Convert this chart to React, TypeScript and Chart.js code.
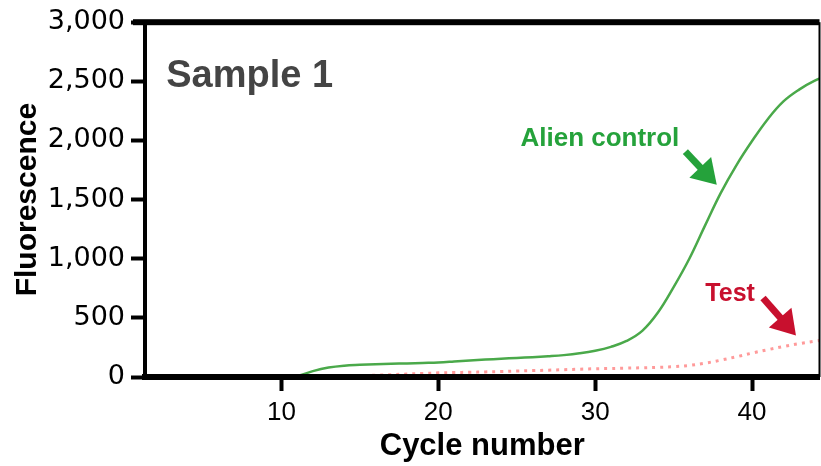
import React, { useEffect, useRef } from "react";
import { Chart, registerables } from "chart.js";

Chart.register(...registerables);

const cycles = [1, 2, 3, 4, 5, 6, 7, 8, 9, 10, 11, 12, 13, 14, 15, 16, 17, 18, 19, 20, 21, 22, 23, 24, 25, 26, 27, 28, 29, 30, 31, 32, 33, 34, 35, 36, 37, 38, 39, 40, 41, 42, 43, 44, 45];
const alienControl = [0, 0, 0, 0, 0, 0, 0, 0, 0, 0, 8, 50, 80, 96, 103, 108, 112, 115, 119, 123, 131, 140, 148, 154, 161, 167, 175, 185, 200, 222, 255, 305, 390, 545, 760, 1000, 1280, 1555, 1790, 1995, 2180, 2330, 2430, 2505, 2560];
const testSample = [0, 0, 0, 0, 0, 0, 0, 0, 0, 0, 0, 0, 0, 5, 10, 15, 20, 25, 30, 35, 38, 40, 43, 46, 50, 54, 58, 62, 66, 70, 72, 75, 78, 82, 87, 98, 117, 142, 171, 202, 231, 258, 282, 303, 322];

const xMin = 1.3;
const xMax = 44.3;
const yMin = 0;
const yMax = 3000;
const xTickStep = 10;
const yTickStep = 500;

const titleText = "Sample 1";
const yAxisTitle = "Fluorescence";
const xAxisTitle = "Cycle number";

// annotation anchors in data units [cycle, fluorescence]
const titleAnchor = [2.65, 2450];
const alienLabel = "Alien control";
const alienLabelAnchor = [30.3, 2010];
const alienArrow = [[35.75, 1905], [37.75, 1625]];
const testLabel = "Test";
const testLabelAnchor = [38.6, 700];
const testArrow = [[40.7, 668], [42.8, 350]];

const GREEN_LINE = "#4aa94a";
const GREEN_TEXT = "#25a23b";
const RED_TEXT = "#c8102e";
const RED_LINE = "#ff9a9a";
const FONT = "'Liberation Sans', Arial, Helvetica, sans-serif";
const TICK_FONT = "'DejaVu Sans', 'Liberation Sans', sans-serif";

function drawArrow(ctx: CanvasRenderingContext2D, x1: number, y1: number, x2: number, y2: number, color: string) {
  const ang = Math.atan2(y2 - y1, x2 - x1);
  const headLen = 24;
  const headW = 15;
  const bx = x2 - headLen * Math.cos(ang);
  const by = y2 - headLen * Math.sin(ang);
  ctx.save();
  ctx.strokeStyle = color;
  ctx.fillStyle = color;
  ctx.lineWidth = 7;
  ctx.beginPath();
  ctx.moveTo(x1, y1);
  ctx.lineTo(bx + 2 * Math.cos(ang), by + 2 * Math.sin(ang));
  ctx.stroke();
  ctx.beginPath();
  ctx.moveTo(x2, y2);
  ctx.lineTo(bx + headW * Math.sin(ang), by - headW * Math.cos(ang));
  ctx.lineTo(bx - headW * Math.sin(ang), by + headW * Math.cos(ang));
  ctx.closePath();
  ctx.fill();
  ctx.restore();
}

const framePlugin = {
  id: "frame",
  afterDraw(chart: any) {
    const { ctx, chartArea, scales } = chart;
    const x = scales.x;
    const y = scales.y;
    ctx.save();
    ctx.fillStyle = "#000";
    ctx.fillRect(chartArea.left - 12, chartArea.top - 3, chartArea.right - chartArea.left + 12, 6);
    ctx.fillRect(chartArea.right - 1, chartArea.top, 2, chartArea.bottom - chartArea.top);

    ctx.fillStyle = "#444444";
    ctx.font = `bold 38px ${FONT}`;
    ctx.textBaseline = "alphabetic";
    ctx.textAlign = "left";
    ctx.fillText(titleText, x.getPixelForValue(titleAnchor[0]), y.getPixelForValue(titleAnchor[1]));

    ctx.textAlign = "center";
    ctx.textBaseline = "middle";
    ctx.font = `bold 26px ${FONT}`;
    ctx.fillStyle = GREEN_TEXT;
    ctx.fillText(alienLabel, x.getPixelForValue(alienLabelAnchor[0]), y.getPixelForValue(alienLabelAnchor[1]));
    ctx.font = `bold 25px ${FONT}`;
    ctx.fillStyle = RED_TEXT;
    ctx.fillText(testLabel, x.getPixelForValue(testLabelAnchor[0]), y.getPixelForValue(testLabelAnchor[1]));

    drawArrow(ctx,
      x.getPixelForValue(alienArrow[0][0]), y.getPixelForValue(alienArrow[0][1]),
      x.getPixelForValue(alienArrow[1][0]), y.getPixelForValue(alienArrow[1][1]), GREEN_TEXT);
    drawArrow(ctx,
      x.getPixelForValue(testArrow[0][0]), y.getPixelForValue(testArrow[0][1]),
      x.getPixelForValue(testArrow[1][0]), y.getPixelForValue(testArrow[1][1]), RED_TEXT);
    ctx.restore();
  },
};

export default function App() {
  const ref = useRef<HTMLCanvasElement>(null);
  useEffect(() => {
    if (!ref.current) return;
    const chart = new Chart(ref.current, {
      type: "line",
      data: {
        datasets: [
          {
            label: "Alien control",
            data: cycles.map((c, i) => ({ x: c, y: alienControl[i] })),
            borderColor: GREEN_LINE,
            borderWidth: 2.5,
            pointRadius: 0,
            tension: 0.4,
            fill: false,
          },
          {
            label: "Test",
            data: cycles.map((c, i) => ({ x: c, y: testSample[i] })),
            borderColor: RED_LINE,
            borderWidth: 3,
            borderDash: [3, 5],
            pointRadius: 0,
            tension: 0.4,
            fill: false,
          },
        ],
      },
      options: {
        animation: false,
        responsive: false,
        devicePixelRatio: 1,
        layout: { padding: { top: 18, right: 1.5, left: 0, bottom: 0 } },
        plugins: {
          legend: { display: false },
          tooltip: { enabled: false },
          title: { display: false },
        },
        scales: {
          x: {
            type: "linear",
            min: xMin,
            max: xMax,
            afterFit: (s: any) => { s.height = 89; },
            border: { display: true, color: "#000", width: 6, z: 2 },
            grid: { display: true, z: 2, drawOnChartArea: false, drawTicks: true, tickLength: 14, tickWidth: 4, tickColor: "#000" },
            ticks: {
              stepSize: xTickStep,
              includeBounds: false,
              color: "#000",
              padding: 6,
              maxRotation: 0,
              font: { family: FONT, size: 26 },
            },
            title: {
              display: true,
              text: xAxisTitle,
              color: "#000",
              font: { family: FONT, size: 31, weight: "bold" },
              padding: { top: 0, bottom: 1 },
            },
          },
          y: {
            type: "linear",
            min: yMin,
            max: yMax,
            afterFit: (s: any) => { s.width = 145; },
            border: { display: true, color: "#000", width: 4, z: 2 },
            grid: { display: true, z: 2, drawOnChartArea: false, drawTicks: true, tickLength: 14, tickWidth: 4, tickColor: "#000" },
            ticks: {
              stepSize: yTickStep,
              color: "#000",
              padding: 6,
              font: { family: TICK_FONT, size: 27 },
              callback: (v: any) => Number(v).toLocaleString("en-US"),
            },
            title: {
              display: true,
              text: yAxisTitle,
              color: "#000",
              font: { family: FONT, size: 30, weight: "bold" },
              padding: { top: 10, bottom: 0 },
            },
          },
        },
      },
      plugins: [framePlugin],
    } as any);
    return () => chart.destroy();
  }, []);
  return (
    <div style={{ position: "absolute", left: 0, top: 0, width: 821, height: 466, background: "#fff" }}>
      <canvas ref={ref} width={821} height={466} style={{ width: 821, height: 466 }} />
    </div>
  );
}
